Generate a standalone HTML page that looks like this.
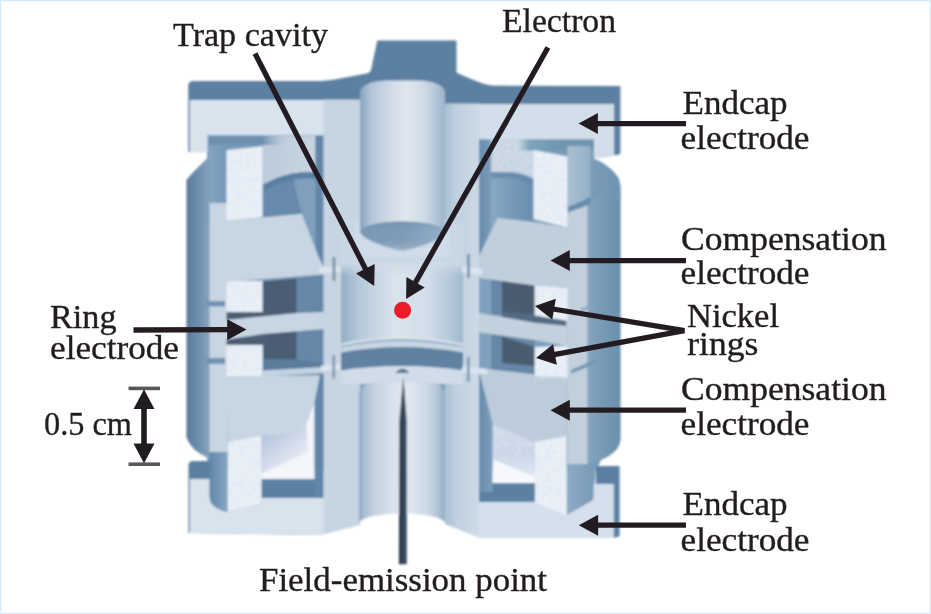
<!DOCTYPE html>
<html>
<head>
<meta charset="utf-8">
<title>Penning trap</title>
<style>
html,body{margin:0;padding:0;background:#ffffff;}
body{width:931px;height:614px;overflow:hidden;font-family:"Liberation Serif",serif;}
svg{display:block;position:absolute;left:0;top:0;}
text{font-family:"Liberation Serif",serif;fill:#231f20;}
</style>
</head>
<body>
<svg width="931" height="614" viewBox="0 0 931 614">
<defs>
  <filter id="soft" x="-2%" y="-2%" width="104%" height="104%"><feGaussianBlur stdDeviation="0.85"/></filter>
  <filter id="soft2" x="-5%" y="-5%" width="110%" height="110%"><feGaussianBlur stdDeviation="1.6"/></filter>
  <filter id="tsoft" x="-2%" y="-10%" width="104%" height="120%"><feGaussianBlur stdDeviation="0.35"/></filter>
  <!--GRADIENTS-->
<linearGradient id="gWallL" gradientUnits="userSpaceOnUse" x1="186.3" y1="0" x2="209.8" y2="0">
 <stop offset="0" stop-color="#56728e"/><stop offset="0.15" stop-color="#5e81a3"/><stop offset="0.55" stop-color="#6f90ae"/><stop offset="1" stop-color="#87a4bd"/>
</linearGradient>
<linearGradient id="gWallR" gradientUnits="userSpaceOnUse" x1="586" y1="0" x2="621" y2="0">
 <stop offset="0" stop-color="#a0b9cc"/><stop offset="0.1" stop-color="#83a4bc"/><stop offset="0.5" stop-color="#769ab4"/><stop offset="1" stop-color="#688fab"/>
</linearGradient>
<linearGradient id="gInL" gradientUnits="userSpaceOnUse" x1="207" y1="0" x2="227" y2="0">
 <stop offset="0" stop-color="#86a5c1"/><stop offset="1" stop-color="#7496b6"/>
</linearGradient>
<linearGradient id="gShadL" gradientUnits="userSpaceOnUse" x1="208" y1="0" x2="288" y2="0">
 <stop offset="0" stop-color="#6e90b0"/><stop offset="0.68" stop-color="#6e90b0"/><stop offset="1" stop-color="#b3c7da" stop-opacity="0"/>
</linearGradient>
<linearGradient id="gShadR" gradientUnits="userSpaceOnUse" x1="518" y1="0" x2="594" y2="0">
 <stop offset="0" stop-color="#7fa3bc" stop-opacity="0"/><stop offset="0.15" stop-color="#7fa3bc"/><stop offset="0.5" stop-color="#6f97b2"/><stop offset="1" stop-color="#6b94b0"/>
</linearGradient>
<linearGradient id="gTeal" gradientUnits="userSpaceOnUse" x1="567" y1="0" x2="592" y2="0">
 <stop offset="0" stop-color="#a9c0d2"/><stop offset="1" stop-color="#93afc7"/>
</linearGradient>
<linearGradient id="gLav" gradientUnits="userSpaceOnUse" x1="266" y1="436" x2="296" y2="472">
 <stop offset="0" stop-color="#b7c5de"/><stop offset="0.55" stop-color="#d6deec"/><stop offset="1" stop-color="#f0f3f9"/>
</linearGradient>
<linearGradient id="gColR" gradientUnits="userSpaceOnUse" x1="445" y1="0" x2="479.5" y2="0">
 <stop offset="0" stop-color="#a9c0d5"/><stop offset="0.3" stop-color="#bfd0df"/><stop offset="1" stop-color="#cedae6"/>
</linearGradient>
<linearGradient id="gCyl" gradientUnits="userSpaceOnUse" x1="360" y1="0" x2="445" y2="0">
 <stop offset="0" stop-color="#87a3bf"/><stop offset="0.13" stop-color="#b4c6d9"/><stop offset="0.38" stop-color="#d3dce8"/><stop offset="0.55" stop-color="#dfe6ef"/><stop offset="0.75" stop-color="#d0dbe6"/><stop offset="0.92" stop-color="#afc2d5"/><stop offset="1" stop-color="#9db4ca"/>
</linearGradient>
<linearGradient id="gCyl2" gradientUnits="userSpaceOnUse" x1="359" y1="0" x2="445" y2="0">
 <stop offset="0" stop-color="#8ea9c4"/><stop offset="0.06" stop-color="#aabfd4"/><stop offset="0.2" stop-color="#c6d3e1"/><stop offset="0.4" stop-color="#dae2ec"/><stop offset="0.6" stop-color="#dfe6ef"/><stop offset="0.8" stop-color="#cbd7e4"/><stop offset="0.93" stop-color="#adc1d4"/><stop offset="0.97" stop-color="#9bb2c9"/><stop offset="1" stop-color="#9bb2c9"/>
</linearGradient>
<linearGradient id="gCone" gradientUnits="userSpaceOnUse" x1="360" y1="0" x2="445" y2="0">
 <stop offset="0" stop-color="#7a97b4"/><stop offset="0.5" stop-color="#7d9ab7"/><stop offset="1" stop-color="#94aec6"/>
</linearGradient>
<linearGradient id="gCav" gradientUnits="userSpaceOnUse" x1="341" y1="0" x2="463" y2="0">
 <stop offset="0" stop-color="#93aec7"/><stop offset="0.15" stop-color="#b6c9da"/><stop offset="0.45" stop-color="#dbe4ed"/><stop offset="0.7" stop-color="#d3deea"/><stop offset="0.9" stop-color="#b4c7d9"/><stop offset="1" stop-color="#9fb7cd"/>
</linearGradient>
<linearGradient id="gULlight" gradientUnits="userSpaceOnUse" x1="262" y1="0" x2="316" y2="0">
 <stop offset="0" stop-color="#bccbda"/><stop offset="0.6" stop-color="#c4d1de"/><stop offset="1" stop-color="#c7d4e1"/>
</linearGradient>
<linearGradient id="gURarc" gradientUnits="userSpaceOnUse" x1="491" y1="0" x2="535" y2="0">
 <stop offset="0" stop-color="#8aa8c4"/><stop offset="0.4" stop-color="#7a9cba"/><stop offset="1" stop-color="#688cae"/>
</linearGradient>
<linearGradient id="gDarkVR" gradientUnits="userSpaceOnUse" x1="478.5" y1="0" x2="492.5" y2="0">
 <stop offset="0" stop-color="#6489ab"/><stop offset="1" stop-color="#7e9fbc"/>
</linearGradient>
<linearGradient id="gU" gradientUnits="userSpaceOnUse" x1="209" y1="0" x2="227.5" y2="0">
 <stop offset="0" stop-color="#5f86a8"/><stop offset="1" stop-color="#86a5c1"/>
</linearGradient>
<linearGradient id="gBlk" gradientUnits="userSpaceOnUse" x1="566.6" y1="0" x2="600" y2="0">
 <stop offset="0" stop-color="#8faac5"/><stop offset="1" stop-color="#7497b6"/>
</linearGradient>
<linearGradient id="gCavTop" gradientUnits="userSpaceOnUse" x1="336" y1="0" x2="468" y2="0">
 <stop offset="0" stop-color="#b9cbdc"/><stop offset="0.3" stop-color="#d3dee9"/><stop offset="0.7" stop-color="#d3dee9"/><stop offset="1" stop-color="#bccddd"/>
</linearGradient>
<filter id="speck" x="0" y="0" width="100%" height="100%">
 <feTurbulence type="fractalNoise" baseFrequency="0.28" numOctaves="2" seed="7" result="n"/>
 <feColorMatrix in="n" type="matrix" values="0 0 0 0 0.70  0 0 0 0 0.78  0 0 0 0 0.88  1.6 1.6 0 0 -1.25" result="c"/>
 <feComposite in="c" in2="SourceGraphic" operator="in"/>
</filter>
<linearGradient id="gCavFade" gradientUnits="userSpaceOnUse" x1="0" y1="262" x2="0" y2="276">
 <stop offset="0" stop-color="#cfdbe7" stop-opacity="1"/><stop offset="0.25" stop-color="#cfdbe7" stop-opacity="0.75"/><stop offset="1" stop-color="#cfdbe7" stop-opacity="0"/>
</linearGradient>
<linearGradient id="gLavR" gradientUnits="userSpaceOnUse" x1="0" y1="430" x2="0" y2="478">
 <stop offset="0" stop-color="#cfd9e8"/><stop offset="0.5" stop-color="#c6d2e5"/><stop offset="1" stop-color="#e4eaf3"/>
</linearGradient>
<linearGradient id="gNeedle" gradientUnits="userSpaceOnUse" x1="398.9" y1="0" x2="406.9" y2="0">
 <stop offset="0" stop-color="#2c3a4b"/><stop offset="0.6" stop-color="#364557"/><stop offset="1" stop-color="#4a5c71"/>
</linearGradient>
<linearGradient id="gConeV" gradientUnits="userSpaceOnUse" x1="0" y1="221" x2="0" y2="251">
 <stop offset="0" stop-color="#5f7f9f" stop-opacity="0.45"/><stop offset="0.35" stop-color="#7d9ab7" stop-opacity="0"/><stop offset="0.7" stop-color="#a9c0d4" stop-opacity="0.1"/><stop offset="1" stop-color="#b5c8da" stop-opacity="0.6"/>
</linearGradient>
</defs>
<rect x="0" y="0" width="931" height="614" fill="#ffffff"/>
<!--DEVICE-->
<g id="device" filter="url(#soft)">
<!-- ===== interior base ===== -->
<rect x="207" y="134" width="384" height="336" fill="#7d9ebc"/>

<!-- ===== left wall ===== -->
<path d="M186.5,190 L186.5,180 L192,173.5 L207.8,157.5 L212,157 L212,461 L207.5,458 L197.5,452 Q189.5,446 186.5,437 Z" fill="url(#gWallL)"/>
<!-- ===== right wall ===== -->
<path d="M585,146 L594,146 L594,158.5 L603,163 L612,170 L618,177 Q620.5,182 620.6,190 L620.6,439 Q620,452 601,460 L598,466 L585,466 Z" fill="url(#gWallR)"/>
<path d="M588,150 L594,158.5 L603,163 L612,170 L618,177 L620.6,186 L620.6,200 Q600,196 590.7,199 Z" fill="#7598b7" opacity="0.55"/>

<!-- ===== upper-left cavity ===== -->
<rect x="207" y="134" width="117" height="90" fill="#7a9cba"/>
<rect x="262.5" y="136" width="53" height="48" fill="url(#gULlight)"/>
<path d="M262.5,185 Q278,176 293,173.4 Q305,171.8 316,172.4 L316,220 L262.5,224 Z" fill="#6689ac"/>
<path d="M293,173.4 Q305,171.8 316,172.4 L316,258 L302,214 Q296,195 293,173.4 Z" fill="#809fbd"/>
<path d="M262.5,185 Q278,176 293,173.4 Q305,171.8 316,172.4 L316,178.5 Q305,177.8 293,179.6 Q278,182.5 262.5,192 Z" fill="#587fa3"/>
<rect x="208.5" y="134" width="18.5" height="72" fill="url(#gInL)"/>
<rect x="208.5" y="134" width="80" height="11" fill="url(#gShadL)"/>
<rect x="315.5" y="134" width="8.5" height="140" fill="#6486a8"/>

<!-- ===== upper-right cavity ===== -->
<rect x="479" y="138" width="107" height="90" fill="#7a9cba"/>
<rect x="491" y="139" width="44" height="42" fill="#c6d3e0"/>
<path d="M491,172 Q508,171.5 518,173.3 Q528,175.5 535,180 L535,222 L497.5,218 L491,232 Z" fill="url(#gURarc)"/>
<path d="M491,172 Q508,171.5 518,173.3 Q528,175.5 535,180 L535,186 Q528,181.5 518,179.3 Q508,177.5 491,178 Z" fill="#6188ab" opacity="0.7"/>
<rect x="518" y="139" width="76" height="11.5" fill="url(#gShadR)"/>
<!-- block right of spacer -->
<path d="M567.5,146 L590.7,146 L590.7,203.5 Q580,209.5 567.5,213 Z" fill="#668cae"/>
<path d="M567.5,146 L590.7,146 L590.7,196.5 Q580,203 567.5,206.5 Z" fill="url(#gTeal)"/>
<rect x="478.5" y="139" width="12.5" height="240" fill="url(#gDarkVR)"/>

<!-- ===== ring cavity backgrounds left ===== -->
<path d="M262.5,281 L324,275 L324,376 L262.5,376.5 Z" fill="#6687a7"/>
<path d="M262.5,281.5 L296.5,278.5 L296.5,313 L262.5,313 Z" fill="#4b5d72"/>
<path d="M263.5,333 L296.5,331 L296.5,359.6 L263.5,359.6 Z" fill="#4b5d72"/>
<path d="M263.5,359.6 L296.5,359.6 L324,364 L324,370 L263.5,371 Z" fill="#5c7c9c"/>
<!-- ===== ring cavity backgrounds right ===== -->
<path d="M478.6,272 L534.7,284.7 L534.7,380 L478.6,376 Z" fill="#7fa0be"/>
<path d="M491.3,277.5 L534.7,284.7 L534.7,318.5 L491.3,314 Z" fill="#6687a7"/>
<path d="M502,280 L534.7,285.5 L534.7,315 L502,312 Z" fill="#4a5c70"/>
<path d="M491.3,334 L534.7,340 L534.7,376 L491.3,371 Z" fill="#6687a7"/>
<path d="M502,336.6 L534.7,347 L534.7,366 L502,363 Z" fill="#4a5c70"/>

<!-- ===== left strips (electrode outer parts) ===== -->
<rect x="209.5" y="203" width="17.5" height="251" fill="#c8d5e2"/>
<rect x="206" y="301" width="19" height="5.5" fill="#7193b3"/>
<rect x="206" y="358" width="19" height="6" fill="#7193b3"/>
<!-- right strips -->
<path d="M567.5,212.5 L585,206.3 L587,205.5 L587,464 L567.5,464 Z" fill="#c2d0dd"/>

<path d="M571,370 L585,364 L596,359 L596,362.5 L585,368 L571,373.5 Z" fill="#7395b4"/>
<path d="M580,309 L594,303 L594,305.8 L580,311.8 Z" fill="#86a4c0"/>
<!-- ===== spacers (white textured) ===== -->
<g fill="#edf1f8">
<path d="M226.5,150.3 L262.5,146.3 L262.5,217 L226.5,221 Z"/>
<rect x="226.5" y="281" width="36" height="31"/>
<rect x="226.5" y="344.7" width="36" height="32"/>
<path d="M227.4,441.8 L261.5,435.4 L261.5,504.3 L227.4,511.7 Z"/>
<path d="M533.5,150 L567.5,156.5 L567.5,227.5 L533.5,219 Z"/>
<path d="M534.7,285 L567.6,288 L567.6,326 L534.7,322 Z"/>
<path d="M534.7,347 L567.6,346 L567.6,380 L534.7,380 Z"/>
<path d="M535,441.5 L566.6,436 L566.6,515.6 L535,502 Z"/>
</g>

<!-- ===== upper compensation electrode left ===== -->
<path d="M226.5,221 L301.7,213.7 L318.6,257 L324,268 L340,266.5 L340,273 L226.5,282 Z" fill="#c8d5e2"/>
<!-- ===== upper compensation electrode right ===== -->
<path d="M497.5,218 L533.5,222 L567.5,227.5 L569.5,288 L534.7,285.5 L462,275.5 L462,267.5 L478.5,268.5 L478.5,257 Z" fill="#c1cfdc"/>

<!-- ===== ring electrode left ===== -->
<path d="M226.5,312 L297,312 L297,313.5 L226.5,320.5 Z" fill="#4c5f75"/>
<path d="M226.5,339 L263.5,333.5 L263.5,345 L226.5,345 Z" fill="#4c5f75"/>
<path d="M226.5,320 L297.5,313 L324,312 L341,312 L341,329 L324,329 L263.5,334 L226.5,339.5 Z" fill="#c8d6e4"/>
<path d="M262.5,370.5 L340,366 L340,372 L262.5,376.8 Z" fill="#c3d3e2"/>
<!-- ring electrode right -->
<path d="M502,312 L534.7,315.5 L566.5,320.7 L566.5,327 L534.7,323 L502,317 Z" fill="#536a82"/>
<path d="M463,311 L478.6,313 L534.7,322.8 L567.6,326 L567.6,346 L534.7,340 L478.6,332.3 L463,331 Z" fill="#c3d1de"/>
<path d="M461.7,366 L534.7,374.5 L534.7,380 L461.7,372 Z" fill="#c1cfdc"/>

<!-- ===== lower compensation electrode left ===== -->
<path d="M226.5,376.5 L320,375.3 L314.6,402 L306,424 L297,434.5 L261.5,435.4 L227.4,441.8 Z" fill="#c8d5e2"/>
<path d="M261.5,435.4 L297,434.5 L306,424 L314.6,402 L314.6,479.7 L261.5,479.7 Z" fill="#f2f5fa"/>
<path d="M261.5,435.4 L297,434.5 L306,424 L308,452 L261.5,473.5 Z" fill="url(#gLav)"/>
<!-- ===== lower compensation electrode right ===== -->
<path d="M479,370.5 L534.7,376 L567.6,377 L567.6,436 L535,441.5 L492.5,423.5 Z" fill="#bdccda"/>
<path d="M492.5,455 L535,469.5 L535,483.7 L492.5,483.7 Z" fill="#f6f8fc"/>
<path d="M492.5,423.5 L535,441.5 L535,477 L492.5,459 Z" fill="url(#gLavR)"/>

<!-- ===== bottom endcap ===== -->
<path d="M188.5,533 L188.5,465 Q189,461 193,461 L210,461 L210,452 L227.4,452 L227.4,511.7 L261.5,504.3 L261.5,479 L322.7,479 L322.7,535 Z" fill="#5c80a2"/>
<rect x="209.4" y="452" width="18" height="58" fill="url(#gU)"/>
<path d="M190,533 L190,479 L209.4,479 L209.4,497 Q210,507 222,510.5 L227.4,511.7 L261.5,504.3 L261.5,498 L322.7,498 L322.7,535 Z" fill="#d9e3ee"/>
<path d="M479,483 L535,483 L535,502 L479,502 Z" fill="#5c80a2"/>
<path d="M479,372 L492.5,423.5 L492.5,492 L479,492 Z" fill="url(#gDarkVR)"/>
<path d="M596,466 L619.6,466 L619.6,536 L613.8,538 L596,538 Z" fill="#5c80a2"/>
<path d="M566.6,464 L587,464 L600,459 L598,466 L596,466 L593.6,500 L566.6,515.6 Z" fill="url(#gBlk)"/>
<path d="M479,502 L535,502 L566.6,515.6 L593.6,500 L593.6,484 L613.8,484 L613.8,538 L479,538 Z" fill="#d4e0ec"/>

<!-- ===== top endcap ===== -->
<path d="M188.3,152 L188.3,85 Q189,81 193,81 L322,81 Q334,80 344,77.7 L364,74 Q370,73.5 371,70 L377.3,40.5 L456.5,40.5 L456.5,72.5 L465,76.4 L480.5,82.8 Q486,85 492,85.6 L620.4,86 L620.4,152 Q620.4,155 617,155 L614,155 L614,104 L480,104 L480,106 L322,106 L322,100 L190,100 L190,152 Z" fill="#5c80a2"/>
<path d="M190,100 L324,100 L324,135.3 L207.5,135.3 L207.5,152.5 L190,152.5 Z" fill="#d9e3ee"/>
<path d="M478,104 L614,104 L614,156.5 L594,158.5 L594,139.3 L478,139.3 Z" fill="#d2deea"/>

<!-- ===== central column ===== -->
<path d="M323.5,99.5 L360,99.5 L360,525 Q340,530 323.5,534.5 Z" fill="#c7d4e1"/>
<path d="M445,103.5 L479,103.5 L479,537.8 Q460,530 445,524 Z" fill="url(#gColR)"/>
<path d="M320,375.5 L323.5,375.5 L323.5,498 L314.6,498 L314.6,402 Z" fill="#6186a9"/>
<!-- between cone and cavity -->
<rect x="341" y="221" width="122" height="45" fill="#c9d7e4"/>
<rect x="356" y="221" width="93" height="36" fill="#d0dce8" filter="url(#soft2)"/>
<!-- upper cylinder -->
<path d="M360,92 Q362,82 385,80.5 L420,80.5 Q443,82 445,92 L445,232 L360,232 Z" fill="url(#gCyl)"/>
<!-- cone -->
<path d="M360,232 A42.5,10.5 0 0 1 445,232 Q443,238 425,244.8 Q410,249.8 402,250.8 Q394,249.8 380,244.8 Q362,238 360,232 Z" fill="url(#gCone)"/>
<path d="M360,232 A42.5,10.5 0 0 1 445,232 Q443,238 425,244.8 Q410,249.8 402,250.8 Q394,249.8 380,244.8 Q362,238 360,232 Z" fill="url(#gConeV)"/>
<!-- trap cavity -->
<path d="M341,262 L463,262 L463,372 L341,372 Z" fill="url(#gCav)"/>
<rect x="341" y="262" width="122" height="14" fill="url(#gCavFade)"/>
<!-- cavity bottom rim -->
<path d="M341,345.5 Q402,332 463,345.5 L463,376 L341,376 Z" fill="#c8d6e3"/>
<path d="M341,346.5 Q402,333.2 463,346.5" fill="none" stroke="#95afc8" stroke-width="2.2"/>
<path d="M341,344.6 Q402,331.4 463,344.6" fill="none" stroke="#e6ecf3" stroke-width="1.6"/>
<path d="M341,352.5 Q402,341.5 463,352.5 L463,370.6 Q402,361.4 341,370.6 Z" fill="#5f81a2"/>
<!-- below cavity -->
<path d="M341,370.6 Q402,361.4 463,370.6 L463,384 L341,384 Z" fill="#d0dce8"/>
<!-- lower cylinder -->
<path d="M359,392 Q362,383 380,382 L425,382 Q443,383 445,392 L445,523 A43,10 0 0 0 359,524 Z" fill="url(#gCyl2)"/>
<g filter="url(#speck)" opacity="0.7">
<path d="M226.5,150.3 L262.5,146.3 L262.5,217 L226.5,221 Z"/>
<rect x="226.5" y="281" width="36" height="31"/>
<rect x="226.5" y="344.7" width="36" height="32"/>
<path d="M227.4,441.8 L261.5,435.4 L261.5,504.3 L227.4,511.7 Z"/>
<path d="M533.5,150 L567.5,156.5 L567.5,227.5 L533.5,219 Z"/>
<path d="M534.7,285 L567.6,288 L567.6,319.5 L534.7,314.5 Z"/>
<path d="M534.7,347 L567.6,346 L567.6,380 L534.7,380 Z"/>
<path d="M535,441.5 L566.6,436 L566.6,515.6 L535,502 Z"/>
<rect x="493" y="141" width="28" height="30"/><rect x="521" y="151" width="12" height="22"/>
<path d="M492.5,425 L535,443 L535,475 L492.5,457 Z"/>
</g>
<!-- wings -->
<g fill="#dce5ef">
<path d="M319.5,267.5 L340.2,266 L340.2,271.8 L319.5,273.8 Z"/>
<path d="M462,266.5 L482,268.5 L482,274.5 L462,272.5 Z"/>
<path d="M321,365.5 L340.6,364 L340.6,369.5 L321,371 Z"/>
<path d="M462,366.5 L487,369 L487,374.5 L462,372 Z"/>
</g>
<!-- pins -->
<g fill="#7a95b0">
<rect x="332.5" y="257" width="3" height="24"/><rect x="467" y="254" width="3" height="24"/>
<rect x="332.5" y="355" width="2.6" height="23.5"/><rect x="467" y="357" width="2.6" height="25"/>
</g>
<!-- needle arch -->
<path d="M395.5,373 Q402.5,364.5 409.5,373 Z" fill="#56738f"/>
<!-- needle -->
<path d="M403.3,377 L399.3,422 L398.9,564.3 L406.9,564.3 L406.9,422 Z" fill="url(#gNeedle)"/>
<!-- electron -->
</g>
<circle cx="402.6" cy="310.3" r="8.5" fill="#ec1c29" filter="url(#tsoft)"/>

<!--ARROWS-->
<g filter="url(#tsoft)">
<line x1="255.0" y1="53.5" x2="365.9" y2="269.7" stroke="#231f20" stroke-width="5.3"/><polygon points="374.2,286.0 356.1,273.6 374.7,264.0" fill="#231f20"/>
<line x1="548.0" y1="47.5" x2="415.1" y2="283.1" stroke="#231f20" stroke-width="5.3"/><polygon points="406.1,299.0 406.4,277.0 424.7,287.4" fill="#231f20"/>
<line x1="686.0" y1="123.6" x2="596.9" y2="123.6" stroke="#231f20" stroke-width="5.3"/><polygon points="578.6,123.6 597.9,113.1 597.9,134.1" fill="#231f20"/>
<line x1="686.0" y1="260.6" x2="568.8" y2="260.6" stroke="#231f20" stroke-width="5.3"/><polygon points="550.5,260.6 569.8,250.1 569.8,271.1" fill="#231f20"/>
<line x1="684.5" y1="330.7" x2="553.1" y2="309.0" stroke="#231f20" stroke-width="5.3"/><polygon points="535.0,306.0 555.8,298.8 552.3,319.5" fill="#231f20"/>
<line x1="684.5" y1="330.7" x2="554.0" y2="354.7" stroke="#231f20" stroke-width="5.3"/><polygon points="536.0,358.0 553.1,344.2 556.9,364.8" fill="#231f20"/>
<line x1="686.0" y1="410.2" x2="568.8" y2="410.2" stroke="#231f20" stroke-width="5.3"/><polygon points="550.5,410.2 569.8,399.7 569.8,420.7" fill="#231f20"/>
<line x1="686.0" y1="525.2" x2="597.1" y2="525.2" stroke="#231f20" stroke-width="5.3"/><polygon points="578.8,525.2 598.1,514.7 598.1,535.7" fill="#231f20"/>
<line x1="133.5" y1="330.0" x2="228.2" y2="329.7" stroke="#231f20" stroke-width="5.3"/><polygon points="246.5,329.6 227.2,340.2 227.2,319.2" fill="#231f20"/>
<rect x="128.5" y="386.6" width="31.5" height="3.6" fill="#58595b"/><rect x="128.5" y="462.4" width="31.5" height="3.6" fill="#58595b"/>
<line x1="144" y1="405" x2="144" y2="448" stroke="#231f20" stroke-width="5.6"/><polygon points="144,389.3 133.5,409 154.5,409" fill="#231f20"/><polygon points="144,463.2 133.5,443.5 154.5,443.5" fill="#231f20"/>
</g>
<!--TEXT-->
<g font-size="33" filter="url(#tsoft)" stroke="#231f20" stroke-width="0.35">
<text x="173" y="45.7" textLength="155" lengthAdjust="spacingAndGlyphs">Trap cavity</text>
<text x="502" y="32" textLength="114" lengthAdjust="spacingAndGlyphs">Electron</text>
<text x="682.5" y="114.2" textLength="105" lengthAdjust="spacingAndGlyphs">Endcap</text>
<text x="680.5" y="148.7" textLength="129" lengthAdjust="spacingAndGlyphs">electrode</text>
<text x="681" y="249.5" textLength="205.5" lengthAdjust="spacingAndGlyphs">Compensation</text>
<text x="680.5" y="283.5" textLength="129" lengthAdjust="spacingAndGlyphs">electrode</text>
<text x="687" y="327.2" textLength="92" lengthAdjust="spacingAndGlyphs">Nickel</text>
<text x="687.3" y="354.7" textLength="71" lengthAdjust="spacingAndGlyphs">rings</text>
<text x="681" y="399.7" textLength="205.5" lengthAdjust="spacingAndGlyphs">Compensation</text>
<text x="680.5" y="434.6" textLength="129" lengthAdjust="spacingAndGlyphs">electrode</text>
<text x="682.5" y="515" textLength="105" lengthAdjust="spacingAndGlyphs">Endcap</text>
<text x="680.5" y="550.5" textLength="129" lengthAdjust="spacingAndGlyphs">electrode</text>
<text x="50" y="327.7" textLength="66.5" lengthAdjust="spacingAndGlyphs">Ring</text>
<text x="50" y="358.7" textLength="129" lengthAdjust="spacingAndGlyphs">electrode</text>
<text x="44" y="434.7" textLength="88" lengthAdjust="spacingAndGlyphs">0.5 cm</text>
<text x="259" y="590.7" textLength="288" lengthAdjust="spacingAndGlyphs">Field-emission point</text>
</g>
<!-- frame -->
<rect x="0.5" y="0.5" width="930" height="613" fill="none" stroke="#d3eafa" stroke-width="1.5"/>
</svg>
</body>
</html>
